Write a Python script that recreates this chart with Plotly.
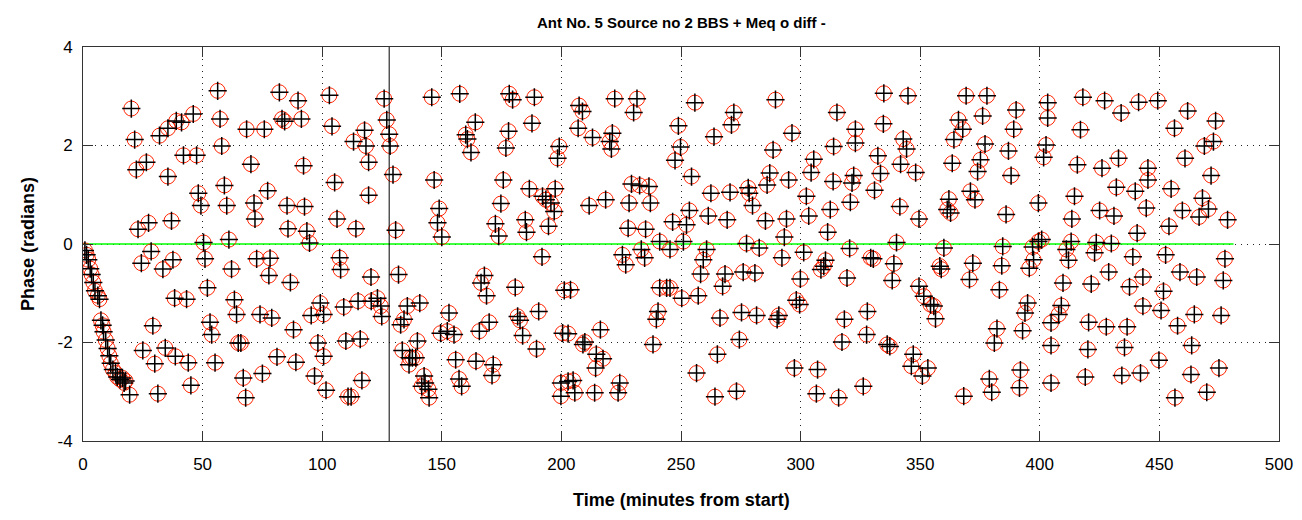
import plotly.graph_objects as go

# ---- data (time in minutes, phase in radians) ----
time_min = [
    # 0-40 min
    0.8, 1.5, 2.2, 3.0, 3.6, 4.3, 5.0, 6.2, 6.9, 7.5, 8.2, 8.6, 9.5, 10.3, 11.0, 11.6,
    12.5, 13.6, 14.3, 15.5, 16.5, 17.2, 17.8, 19.5,
    20.2, 32.0, 35.5, 39.0, 21.6, 26.5, 22.3, 35.5, 27.4, 23.0, 37.0, 28.5, 37.6, 24.4,
    33.4, 38.3, 29.2, 25.0, 34.4, 30.0, 38.6, 31.3,
    # 40-80
    56.3, 57.3, 46.1, 41.2, 68.4, 75.8, 58.0, 42.0, 47.5, 70.2, 59.1, 48.2, 49.3, 60.1,
    71.5, 77.2, 71.9, 50.4, 61.0, 51.0, 72.6, 78.2, 62.1, 52.0, 63.3, 64.2, 74.0, 78.9,
    77.7, 43.3, 53.1, 53.8, 64.9, 66.0, 44.0, 55.2, 45.1, 67.0, 75.0, 68.0,
    # 80-120
    82.1, 89.9, 103.0, 83.2, 84.3, 91.3, 104.1, 117.7, 113.1, 118.3, 119.4, 92.2, 105.2,
    85.3, 92.6, 119.4, 106.2, 114.1, 85.7, 93.6, 94.7, 107.3, 107.7, 120.4, 86.7, 99.2,
    95.4, 100.6, 109.0, 115.0, 120.5, 88.0, 98.2, 109.9, 115.9, 81.1, 89.0, 100.6, 96.8,
    116.6, 101.6, 110.8, 112.1,
    # 120-160
    125.9, 145.8, 157.5, 127.0, 128.0, 128.4, 160.0, 160.7, 129.6, 146.8, 148.9, 148.2,
    150.0, 130.7, 131.9, 140.8, 135.6, 123.1, 124.5, 124.9, 132.8, 134.2, 153.0, 149.5,
    152.3, 155.1, 139.8, 133.5, 136.6, 137.7, 139.1, 136.3, 155.8, 142.6, 143.0, 141.6,
    144.4, 144.7, 157.2, 158.3,
    # 160-200
    178.2, 179.6, 188.7, 164.0, 177.9, 187.7, 176.8, 162.2, 199.1, 198.4, 175.7, 186.6,
    192.1, 193.5, 195.6, 197.0, 197.4, 174.7, 172.4, 173.8, 184.9, 185.4, 194.6, 191.9,
    167.8, 166.4, 168.7, 180.7, 201.2, 181.7, 182.7, 183.8, 190.5, 169.8, 165.7, 200.5,
    189.6, 164.3, 171.5, 171.0, 199.8, 199.8,
    # 200-240
    207.4, 208.8, 222.3, 231.6, 230.2, 207.0, 213.0, 221.3, 220.2, 220.9, 229.3, 232.7,
    236.6, 218.5, 211.6, 228.3, 237.2, 227.9, 235.2, 241.1, 225.5, 226.9, 233.4, 234.8,
    203.8, 241.1, 240.4, 239.7, 202.8, 216.3, 209.8, 209.0, 214.6, 217.4, 214.3, 238.3,
    202.8, 204.9, 205.6, 213.9, 224.4, 223.7,
    # 240-280
    255.8, 272.1, 271.1, 248.9, 263.8, 249.8, 247.5, 254.4, 262.5, 270.5, 278.1, 278.5,
    279.9, 253.5, 261.4, 269.3, 246.5, 252.3, 251.0, 245.4, 260.7, 259.3, 277.4, 282.7,
    258.2, 268.4, 267.4, 276.0, 280.9, 244.0, 245.4, 250.3, 257.2, 266.3, 275.3, 281.6,
    274.4, 265.2, 256.5, 273.2, 264.2,
    # 280-320
    289.5, 315.2, 296.4, 288.5, 313.8, 322.9, 322.9, 305.5, 304.4, 287.1, 286.0, 295.0,
    313.6, 322.2, 321.5, 302.4, 312.4, 320.8, 285.3, 294.1, 303.4, 311.3, 293.2, 301.3,
    292.2, 320.5, 310.4, 308.5, 309.7, 299.9, 319.4, 298.2, 299.6, 290.9, 290.2, 318.3,
    317.3, 297.4, 307.1, 306.6, 315.9,
    # 320-360
    334.8, 344.9, 334.6, 342.9, 344.3, 332.3, 341.8, 333.4, 348.1, 364.1, 363.4, 330.9,
    341.5, 349.5, 362.0, 361.3, 362.7, 340.1, 359.9, 329.3, 330.4, 339.0, 358.2, 358.8,
    338.3, 349.5, 351.5, 354.3, 355.7, 356.4, 327.9, 327.6, 336.2, 337.3, 347.1, 346.3,
    350.9, 353.2, 326.2,
    # 360-400
    369.2, 377.9, 390.1, 403.3, 366.0, 367.8, 376.1, 389.1, 403.3, 377.1, 386.9, 402.6,
    401.6, 375.2, 374.0, 388.0, 371.0, 372.9, 399.4, 385.9, 384.5, 399.4, 400.8, 397.0,
    372.0, 370.6, 384.1, 397.4, 395.6, 383.1, 394.9, 393.8, 382.1, 381.0, 392.8, 404.7,
    404.7, 391.9, 378.9, 379.9, 391.5, 368.2, 404.7,
    # 400-445
    418.0, 427.1, 441.3, 434.0, 417.0, 415.7, 426.0, 432.9, 445.2, 432.0, 439.9, 414.5,
    445.2, 425.0, 431.0, 413.4, 444.5, 440.7, 413.1, 411.1, 412.0, 423.6, 422.9, 429.9,
    438.9, 428.8, 443.1, 409.7, 421.5, 437.5, 409.0, 407.9, 420.4, 427.8, 436.5, 443.1,
    420.1, 435.4, 419.0, 434.3, 442.1,
    # 445-480
    449.3, 461.8, 473.5, 456.3, 468.8, 472.6, 460.7, 471.6, 454.9, 468.0, 470.5, 466.6,
    459.6, 454.0, 478.5, 452.6, 477.4, 458.6, 465.6, 476.7, 451.7, 450.7, 464.6, 475.8,
    457.6, 463.5, 449.8, 463.2, 474.9, 469.8, 456.5,
]

phase_rad = [
    # 0-40 min
    -0.13, -0.22, -0.32, -0.50, -0.62, -0.78, -0.95, -1.05, -1.12, -1.55, -1.65, -1.78,
    -1.95, -2.12, -2.27, -2.42, -2.55, -2.62, -2.70, -2.75, -2.72, -2.82, -2.78, -3.06,
    2.75, 2.20, 2.35, 2.50, 2.12, 1.66, 1.51, 1.37, 0.43, 0.30, 0.47, -0.15, -0.32, -0.39,
    -0.51, -1.10, -1.66, -2.16, -2.11, -2.43, -2.28, -3.04,
    # 40-80
    3.11, 2.54, 2.64, 2.47, 2.33, 2.33, 1.99, 1.80, 1.80, 1.62, 1.19, 1.03, 0.78, 0.78,
    0.83, 1.08, 0.51, 0.03, 0.09, -0.30, -0.30, -0.29, -0.51, -0.89, -1.13, -1.43, -1.43,
    -1.50, -0.64, -1.12, -1.59, -1.84, -2.01, -2.01, -2.41, -2.41, -2.87, -2.72, -2.63,
    -3.12,
    # 80-120
    3.08, 2.91, 3.02, 2.54, 2.49, 2.54, 2.39, 2.31, 2.08, 1.99, 1.66, 1.59, 1.25, 0.78,
    0.76, 0.99, 0.51, 0.31, 0.31, 0.26, 0.02, -0.28, -0.52, -0.67, -0.78, -1.20, -1.45,
    -1.43, -1.28, -1.16, -1.16, -1.74, -2.01, -1.97, -1.93, -2.29, -2.40, -2.28, -2.68,
    -2.77, -2.97, -3.10, -3.10,
    # 120-160
    2.95, 2.98, 3.05, 2.52, 2.23, 1.99, 2.22, 2.13, 1.41, 1.30, 0.72, 0.43, 0.14, 0.28,
    -0.62, -1.20, -1.26, -1.10, -1.26, -1.47, -1.64, -1.53, -1.40, -1.81, -1.77, -1.84,
    -1.97, -2.16, -2.31, -2.31, -2.31, -2.45, -2.35, -2.68, -2.82, -2.89, -2.95, -3.12,
    -2.74, -2.89,
    # 160-200
    3.05, 2.93, 2.98, 2.47, 2.29, 2.45, 1.95, 1.86, 1.98, 1.74, 1.30, 1.12, 0.97, 0.90,
    0.83, 0.66, 1.12, 0.82, 0.41, 0.16, 0.49, 0.24, 0.36, -0.26, -0.64, -0.79, -1.05,
    -0.88, -0.94, -1.47, -1.55, -1.86, -1.37, -1.59, -1.77, -1.81, -2.13, -2.38, -2.45,
    -2.67, -2.82, -3.09,
    # 200-240
    2.81, 2.69, 2.95, 2.95, 2.67, 2.35, 2.16, 2.25, 2.08, 1.93, 1.22, 1.19, 1.17, 0.90,
    0.78, 0.83, 0.83, 0.32, 0.30, 0.05, -0.22, -0.42, -0.11, -0.28, -0.93, -0.89, -1.37,
    -1.53, -1.82, -1.74, -1.99, -2.04, -2.24, -2.33, -2.52, -2.04, -2.79, -2.77, -3.02,
    -3.02, -2.82, -3.02,
    # 240-280
    2.87, 2.67, 2.42, 2.40, 2.18, 1.97, 1.70, 1.37, 1.03, 1.05, 1.14, 1.03, 0.78, 0.68,
    0.57, 0.49, 0.45, 0.39, 0.05, -0.11, -0.11, -0.32, 0.01, -0.08, -0.61, -0.61, -0.86,
    -0.57, -0.59, -0.89, -0.89, -1.10, -1.05, -1.50, -1.39, -1.45, -1.94, -2.24, -2.62,
    -2.99, -3.10,
    # 280-320
    2.93, 2.67, 2.25, 1.91, 1.98, 2.33, 2.05, 1.72, 1.45, 1.44, 1.20, 1.30, 1.27, 1.39,
    1.24, 0.97, 0.70, 0.85, 0.47, 0.51, 0.57, 0.24, 0.14, -0.17, -0.28, -0.09, -0.33,
    -0.52, -0.45, -0.71, -0.69, -1.14, -1.23, -1.45, -1.53, -1.53, -1.99, -2.52, -2.55,
    -3.04, -3.12,
    # 320-360
    3.06, 3.01, 2.44, 2.13, 1.93, 1.79, 1.62, 1.43, 1.45, 2.12, 1.64, 1.09, 0.76, 0.51,
    0.91, 0.70, 0.63, 0.03, -0.08, -0.28, -0.30, -0.40, -0.45, -0.51, -0.74, -0.86, -1.06,
    -1.23, -1.26, -1.52, -1.37, -1.84, -2.04, -2.08, -2.24, -2.48, -2.68, -2.52, -2.89,
    # 360-400
    3.01, 3.01, 2.72, 2.87, 2.52, 2.33, 2.60, 2.33, 2.56, 2.03, 1.89, 2.01, 1.76, 1.71,
    1.47, 1.39, 1.07, 0.90, 0.83, 0.60, -0.05, 0.05, 0.09, -0.06, -0.39, -0.72, -0.44,
    -0.32, -0.49, -0.93, -1.20, -1.40, -1.72, -2.01, -1.76, -1.60, -2.06, -2.56, -2.74,
    -3.01, -2.92, -3.09, -2.82,
    # 400-445
    2.98, 2.91, 2.88, 2.66, 2.32, 1.61, 1.54, 1.74, 1.54, 1.15, 1.07, 0.97, 1.30, 0.68,
    0.57, 0.51, 0.73, 0.22, 0.05, -0.11, -0.33, 0.03, -0.18, 0.01, -0.26, -0.57, -0.67,
    -0.79, -0.81, -0.87, -1.25, -1.43, -1.59, -1.68, -1.68, -1.26, -2.14, -2.10, -2.70,
    -2.67, -2.62,
    # 445-480
    2.91, 2.70, 2.50, 2.35, 1.99, 2.08, 1.74, 1.39, 1.12, 0.93, 0.71, 0.55, 0.68, 0.36,
    0.49, -0.22, -0.30, -0.57, -0.67, -0.74, -0.96, -1.35, -1.43, -1.45, -1.66, -2.06,
    -2.36, -2.65, -2.52, -3.01, -3.12,
]

ref_line_x = [0, 481]       # green zero-phase reference line extent
ref_line_y = [0, 0]
marker_time = 128           # vertical black marker line
x_ticks = [0, 50, 100, 150, 200, 250, 300, 350, 400, 450, 500]
y_ticks = [-4, -2, 0, 2, 4]
y_tick_text = ["-4", "-2", "0", "2", "4"]

FONT = "Liberation Sans, Arial, sans-serif"

fig = go.Figure()

fig.add_trace(go.Scatter(
    x=ref_line_x, y=ref_line_y, mode="lines",
    line=dict(color="#00ff00", width=1.6), hoverinfo="skip", showlegend=False))

fig.add_trace(go.Scatter(
    x=time_min, y=phase_rad, mode="markers",
    marker=dict(symbol="circle-open", size=15, color="#ff2200",
                line=dict(color="#ff2200", width=1)),
    showlegend=False))

fig.add_trace(go.Scatter(
    x=time_min, y=phase_rad, mode="markers",
    marker=dict(symbol="cross-thin-open", size=13, color="black",
                line=dict(color="black", width=1.5)),
    showlegend=False))

fig.add_shape(type="line", xref="x", yref="paper",
              x0=marker_time, x1=marker_time, y0=0, y1=1,
              line=dict(color="black", width=1))

axis_common = dict(
    showline=True, linecolor="#333333", linewidth=1, mirror="ticks",
    ticks="inside", ticklen=10, tickcolor="#333333", tickwidth=1,
    showgrid=True, gridcolor="#222222", gridwidth=1, griddash="1px,5px",
    zeroline=False,
    tickfont=dict(family=FONT, size=17, color="black"),
)

fig.update_xaxes(range=[0, 500], tickvals=x_ticks,
                 ticklabelstandoff=8, **axis_common)
fig.update_yaxes(range=[-4, 4], tickvals=y_ticks, ticktext=y_tick_text,
                 ticklabelstandoff=6, **axis_common)

fig.update_layout(
    width=1302, height=520,
    margin=dict(l=83, r=23, t=47, b=79, autoexpand=False),
    paper_bgcolor="white", plot_bgcolor="white",
    font=dict(family=FONT, color="black"),
    annotations=[
        dict(text="<b>Ant No. 5 Source no 2 BBS + Meq o diff -</b>",
             xref="paper", yref="paper", x=0.5, y=1.063,
             xanchor="center", yanchor="middle", showarrow=False,
             font=dict(family=FONT, size=15, color="black")),
        dict(text="<b>Time (minutes from start)</b>",
             xref="paper", yref="paper", x=0.5, y=-0.15,
             xanchor="center", yanchor="middle", showarrow=False,
             font=dict(family=FONT, size=18, color="black")),
        dict(text="<b>Phase (radians)</b>",
             xref="paper", yref="paper", x=-0.046, y=0.5, textangle=-90,
             xanchor="center", yanchor="middle", showarrow=False,
             font=dict(family=FONT, size=18, color="black")),
    ],
)

fig.write_html("out.html")
